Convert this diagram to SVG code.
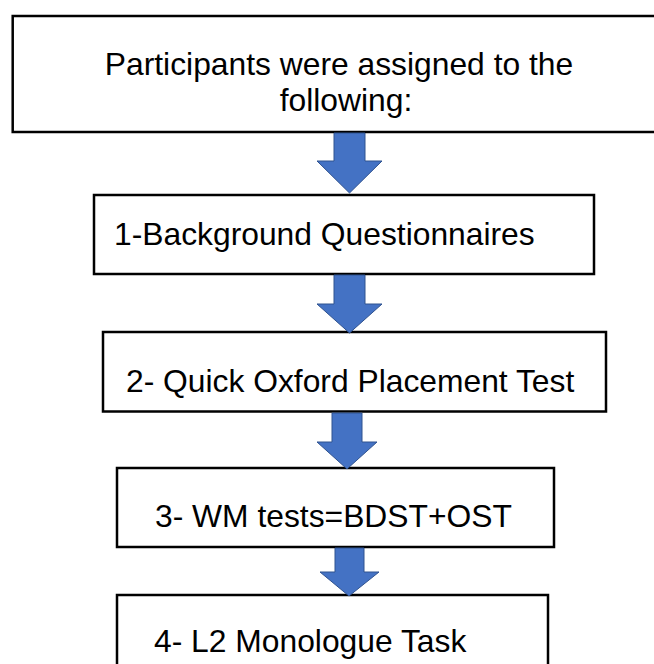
<svg xmlns="http://www.w3.org/2000/svg" width="654" height="664" viewBox="0 0 654 664">
<style>
.box{fill:#ffffff;stroke:#000000;stroke-width:2.5}
.lbl{font-family:"Liberation Sans",Arial,sans-serif;font-size:31.8px;fill:#000000}
.arr{fill:#4472C4;stroke:#2F528F;stroke-width:1}
</style>
<rect width="654" height="664" fill="#ffffff"/>
<g id="node0">
<rect class="box" x="12.7" y="16" width="700" height="116"/>
<text class="lbl" x="339" y="75" text-anchor="middle">Participants were assigned to the</text>
<text class="lbl" x="346" y="111" text-anchor="middle">following:</text>
</g>
<g id="node1">
<rect class="box" x="94" y="195" width="500" height="79"/>
<text class="lbl" x="114" y="245">1-Background Questionnaires</text>
</g>
<g id="node2">
<rect class="box" x="103" y="332" width="503" height="79.5"/>
<text class="lbl" x="126" y="392">2- Quick Oxford Placement Test</text>
</g>
<g id="node3">
<rect class="box" x="117" y="468" width="437" height="79"/>
<text class="lbl" x="155" y="527">3- WM tests=BDST+OST</text>
</g>
<g id="node4">
<rect class="box" x="117" y="595" width="431" height="100"/>
<text class="lbl" x="154" y="652">4- L2 Monologue Task</text>
</g>
<g id="connectors">
<polygon class="arr" points="334,133 365,133 365,161 382,161 349.5,193 317,161 334,161"/>
<polygon class="arr" points="334,275 365,275 365,304 382,304 349.5,333 317,304 334,304"/>
<polygon class="arr" points="332,413 362,413 362,442 377,442 347,469 317,442 332,442"/>
<polygon class="arr" points="335,548 364,548 364,572 379,572 349,596 320,572 335,572"/>
</g>
</svg>
